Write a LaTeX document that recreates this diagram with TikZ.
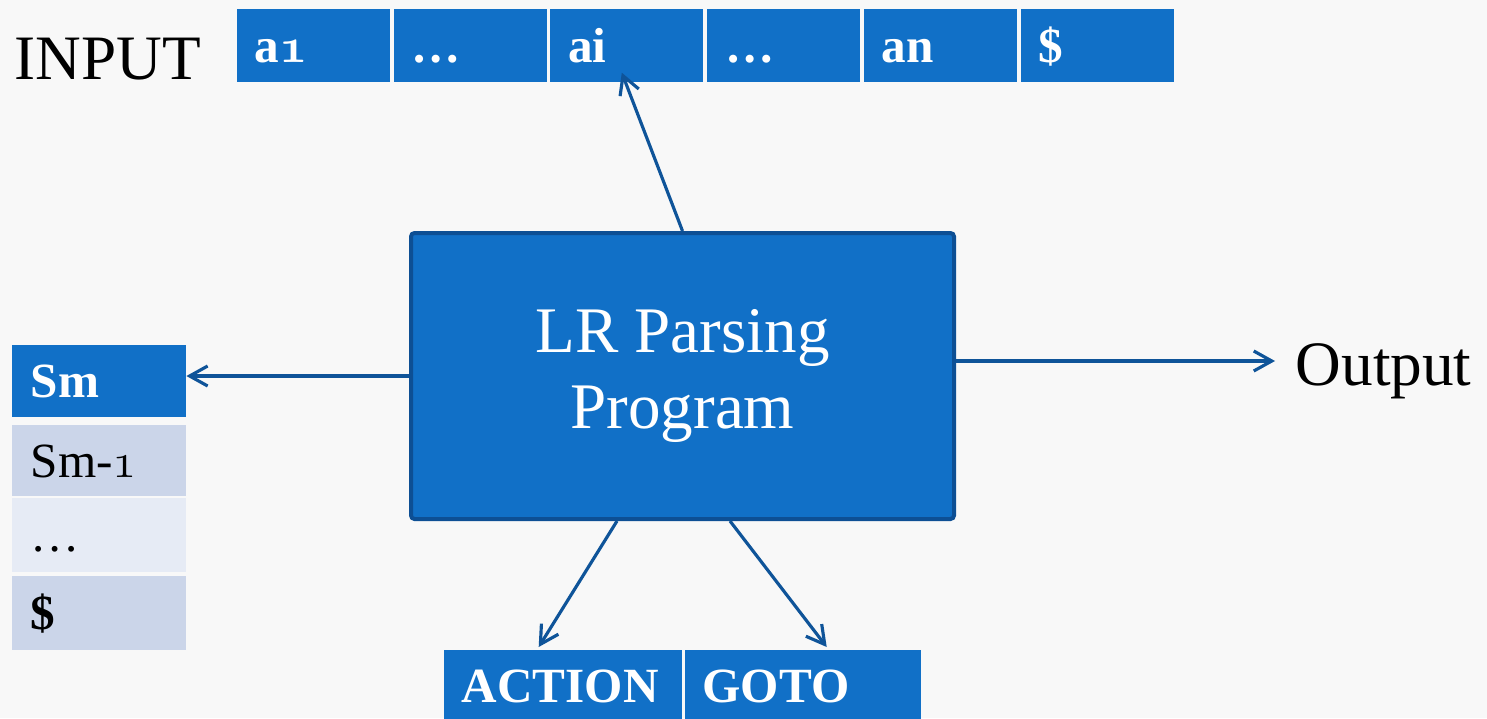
\documentclass[tikz,border=0pt]{standalone}
\usepackage{fix-cm}
\usepackage{fontspec}
\setmainfont{Liberation Serif}
\usetikzlibrary{arrows.meta,calc}
\definecolor{cellblue}{HTML}{1170C7}
\definecolor{progborder}{HTML}{0D4F94}
\definecolor{linkblue}{HTML}{0F5499}
\definecolor{stackgray}{HTML}{CBD5E9}
\definecolor{stacklight}{HTML}{E6EBF5}
\definecolor{bgpaper}{HTML}{F8F8F8}
\newcommand\cellfont{\fontsize{14}{16}\selectfont}
\newcommand\osone{{\usefont{OML}{cmm}{m}{it}1}}
\newcommand\osonebf{{\usefont{OML}{cmm}{b}{it}1}}

\begin{document}
\begin{tikzpicture}[
        cell/.style={fill=cellblue, text=white, font=\cellfont\bfseries, anchor=west,
            inner xsep=0.18cm, inner ysep=0pt, text height=0.36cm, text depth=0.03cm,
            minimum height=0.73cm, align=left},
        slot/.style={anchor=west, inner xsep=0.19cm, inner ysep=0pt, text width=1.36cm,
            text height=0.36cm, text depth=0.03cm, align=left, font=\cellfont},
        link/.style={draw=linkblue, line width=0.9pt, -{Straight Barb[length=1.8mm, width=2mm]}}
    ]
        \fill[bgpaper] (0,0) rectangle (14.87,7.18);
        \useasboundingbox (0,0) rectangle (14.87,7.18);

        % === INPUT ===
        \node[anchor=base west, inner sep=0pt, font=\fontsize{18}{20}\selectfont] (inlbl) at (0.14,6.38) {INPUT};
        \foreach \sym [count=\i] in {{a\osonebf}, \dots, ai, \dots, an, \$} {
            \node[cell, text width=1.17cm] (in\i) at ({2.36+1.568*(\i-1)},6.725) {\sym};
        }

        % === Stack ===
        \node[slot, fill=cellblue, text=white, font=\cellfont\bfseries, minimum height=0.72cm] (sm) at (0.11,3.37) {Sm};
        \node[slot, fill=stackgray, minimum height=0.71cm] (sm1) at (0.11,2.575) {Sm-\osone};
        \node[slot, fill=stacklight, minimum height=0.74cm] (sdots) at (0.11,1.83) {\dots};
        \node[slot, fill=stackgray, font=\cellfont\bfseries, minimum height=0.74cm] (sbot) at (0.11,1.05) {\$};

        % === LR Parsing Program ===
        \node[fill=cellblue, draw=progborder, line width=0.04cm, rounded corners=1pt,
            minimum width=5.43cm, minimum height=2.86cm, text=white, align=center,
            font=\fontsize{18.5}{21.5}\selectfont] (prog) at (6.825,3.42) {LR Parsing\\Program};

        % === Tabelle ===
        \node[cell, anchor=north west, text width=2.02cm, minimum height=0.72cm] (action) at (4.43,0.69) {ACTION};
        \node[cell, anchor=north west, text width=2.00cm, minimum height=0.72cm] (goto) at (6.84,0.69) {GOTO};

        % Output
        \node[anchor=west, inner xsep=0.2cm, inner ysep=0pt, text height=0.5cm, text depth=0.02cm,
            font=\fontsize{18}{20}\selectfont] (out) at (12.75,3.57) {Output};

        % Frecce
        \draw[link] (prog.north) -- ($(in3.south)+(-0.05,0.10)$);
        \draw[link] (prog.west) -- (prog.west -| sm.east);
        \draw[link] (prog.east |- out.west) -- (out.west);
        \draw[link] ($(prog.south)+(-0.655,0)$) -- ($(action.north)+(-0.24,0.02)$);
        \draw[link] ($(prog.south)+(0.475,0)$) -- ($(goto.north)+(0.24,0.02)$);
\end{tikzpicture}
\end{document}
